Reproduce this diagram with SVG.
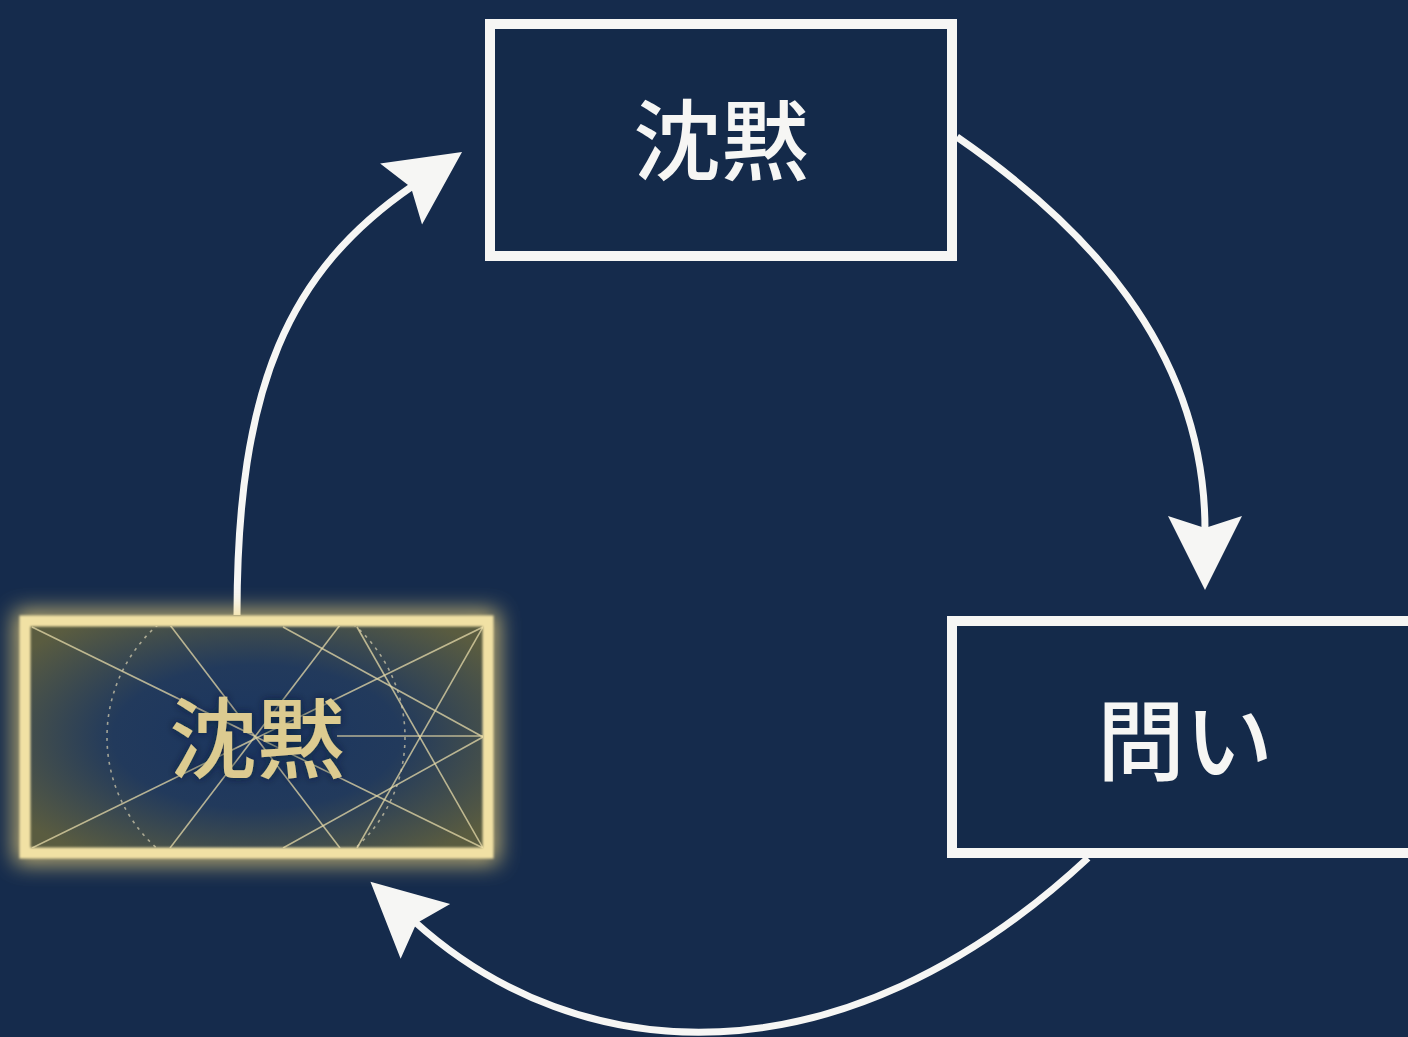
<svg xmlns="http://www.w3.org/2000/svg" width="1408" height="1037" viewBox="0 0 1408 1037">
  <style>
    .box { fill: #142a4a; stroke: #f6f6f4; stroke-width: 10; }
    .conn { fill: none; stroke: #f6f6f4; stroke-width: 7; }
    .lbl { font-family: "Noto Sans CJK JP", "Noto Sans", sans-serif; font-size: 88px; font-weight: 500; text-anchor: middle; }
    .white { fill: #f6f6f4; }
    .gold { fill: #dccb90; }
    .geo { stroke: #e6d9a8; stroke-width: 1.6; opacity: 0.75; fill: none; }
  </style>
  <defs>
    <marker id="arrow" markerUnits="userSpaceOnUse" markerWidth="80" markerHeight="80" refX="14" refY="37" orient="auto">
      <path d="M0,0 L74,37 L0,74 L12,37 Z" fill="#f6f6f4"/>
    </marker>
    <radialGradient id="goldFill" cx="0.5" cy="0.5" r="0.62">
      <stop offset="0" stop-color="#1a3560"/>
      <stop offset="0.5" stop-color="#223a5c"/>
      <stop offset="1" stop-color="#5a5c40"/>
    </radialGradient>
    <filter id="glow" x="-20%" y="-30%" width="140%" height="160%">
      <feGaussianBlur stdDeviation="11"/>
    </filter>
    <filter id="soft" x="-5%" y="-5%" width="110%" height="110%">
      <feGaussianBlur stdDeviation="0.8"/>
    </filter>
    <filter id="txtglow" x="-20%" y="-30%" width="140%" height="160%">
      <feGaussianBlur in="SourceAlpha" stdDeviation="4" result="b"/>
      <feFlood flood-color="#0d1a2e" flood-opacity="0.7"/>
      <feComposite in2="b" operator="in" result="s"/>
      <feMerge><feMergeNode in="s"/><feMergeNode in="SourceGraphic"/></feMerge>
    </filter>
    <clipPath id="innerClip">
      <rect x="31" y="626" width="452" height="222"/>
    </clipPath>
  </defs>

  <rect width="1408" height="1037" fill="#152b4c"/>

  <g id="connectors">
    <path class="conn" d="M237,615 C237,385 289,271 412.6,186" marker-end="url(#arrow)"/>
    <path class="conn" d="M957,137 C1080,222 1205,345 1205,530" marker-end="url(#arrow)"/>
    <path class="conn" d="M1088,858 C840,1089 578,1069 415,922" marker-end="url(#arrow)"/>
  </g>

  <g id="node-top">
    <rect class="box" x="490" y="24" width="462" height="232"/>
    <text class="lbl white" x="721" y="173">沈黙</text>
  </g>

  <g id="node-right">
    <rect class="box" x="952" y="621" width="466" height="232"/>
    <text class="lbl white" x="1185" y="773">問い</text>
  </g>

  <g id="node-left">
    <rect x="25" y="621" width="463" height="232" fill="none" stroke="#f3d77c" stroke-width="20" opacity="0.85" filter="url(#glow)"/>
    <rect x="25" y="621" width="463" height="232" fill="url(#goldFill)"/>
    <g clip-path="url(#innerClip)">
      <line class="geo" x1="32" y1="627" x2="483" y2="848"/>
      <line class="geo" x1="32" y1="848" x2="483" y2="627"/>
      <line class="geo" x1="170" y1="625" x2="340" y2="848"/>
      <line class="geo" x1="340" y1="625" x2="170" y2="848"/>
      <line class="geo" x1="283" y1="627" x2="483" y2="737"/>
      <line class="geo" x1="283" y1="848" x2="483" y2="737"/>
      <line class="geo" x1="337" y1="736" x2="483" y2="736"/>
      <line class="geo" x1="357" y1="627" x2="483" y2="848"/>
      <line class="geo" x1="357" y1="848" x2="483" y2="627"/>
      <circle cx="256" cy="737" r="149" fill="none" stroke="#d8d0b0" stroke-width="1.6" stroke-dasharray="3 5" opacity="0.7"/>
    </g>
    <rect x="25" y="621" width="463" height="232" fill="none" stroke="#f1e1a4" stroke-width="11" filter="url(#soft)"/>
    <text class="lbl gold" x="257" y="771" filter="url(#txtglow)">沈黙</text>
  </g>
</svg>
